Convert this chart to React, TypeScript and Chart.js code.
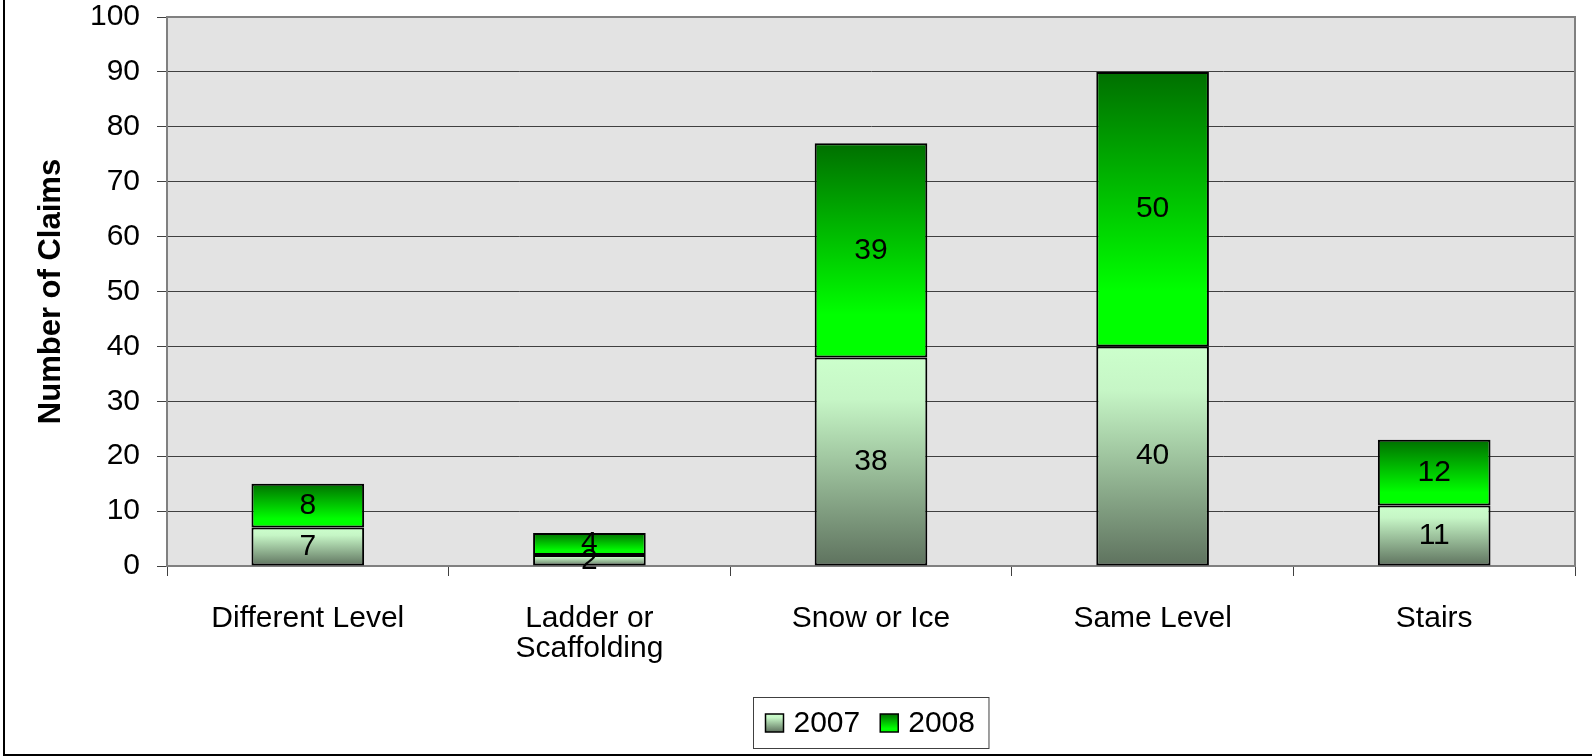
import React, { useEffect, useRef } from "react";
import { Chart, registerables } from "chart.js";

Chart.register(...registerables);

const categories: string[][] = [
  ["Different Level"],
  ["Ladder or", "Scaffolding"],
  ["Snow or Ice"],
  ["Same Level"],
  ["Stairs"],
];
const seriesNames = ["2007", "2008"];
const values2007 = [7, 2, 38, 40, 11];
const values2008 = [8, 4, 39, 50, 12];
const yMin = 0;
const yMax = 100;
const yStep = 10;
const yTitle = "Number of Claims";

const FONT = "'Liberation Sans', Arial, sans-serif";

const stops2007: [number, string][] = [
  [0, "#ccffcc"],
  [0.2, "#c6f6c6"],
  [1, "#5e725e"],
];
const stops2008: [number, string][] = [
  [0, "#006f00"],
  [0.8, "#00ff00"],
  [1, "#00ff00"],
];

function makeGrad(ctx: CanvasRenderingContext2D, top: number, bottom: number, stops: [number, string][]) {
  const g = ctx.createLinearGradient(0, top, 0, bottom === top ? top + 1 : bottom);
  stops.forEach(([o, c]) => g.addColorStop(o, c));
  return g;
}

const allSeries = [values2007, values2008];
const allStops = [stops2007, stops2008];

function segFill(dsIndex: number) {
  return (c: any) => {
    const chart = c.chart;
    const y = chart.scales?.y;
    if (!chart.chartArea || !y || c.dataIndex === undefined) return allStops[dsIndex][1][1];
    let start = 0;
    for (let k = 0; k < dsIndex; k++) start += allSeries[k][c.dataIndex];
    const end = start + allSeries[dsIndex][c.dataIndex];
    const top = y.getPixelForValue(end);
    const bottom = y.getPixelForValue(start);
    return makeGrad(chart.ctx, top, bottom, allStops[dsIndex]);
  };
}

const bgPlugin = {
  id: "bgPlugin",
  beforeDraw(chart: any) {
    const { ctx, chartArea: a } = chart;
    ctx.save();
    ctx.fillStyle = "#ffffff";
    ctx.fillRect(0, 0, chart.width, chart.height);
    ctx.fillStyle = "#e3e3e3";
    ctx.fillRect(a.left, a.top, a.right - a.left, a.bottom - a.top);
    ctx.restore();
  },
  beforeDatasetsDraw(chart: any) {
    const { ctx, chartArea: a } = chart;
    ctx.save();
    ctx.strokeStyle = "#808080";
    ctx.lineWidth = 2;
    ctx.beginPath();
    ctx.moveTo(a.left, a.top);
    ctx.lineTo(a.right, a.top);
    ctx.lineTo(a.right, a.bottom);
    ctx.stroke();
    ctx.restore();
  },
  afterDatasetsDraw(chart: any) {
    const { ctx } = chart;
    ctx.save();
    ctx.font = `30px ${FONT}`;
    ctx.fillStyle = "#000000";
    ctx.textAlign = "center";
    ctx.textBaseline = "middle";
    chart.data.datasets.forEach((ds: any, di: number) => {
      const meta = chart.getDatasetMeta(di);
      meta.data.forEach((el: any, i: number) => {
        ctx.fillText(String(ds.data[i]), el.x, (el.y + el.base) / 2);
      });
    });
    ctx.restore();
  },
  afterDraw(chart: any) {
    const { ctx, chartArea: a } = chart;
    ctx.save();
    // legend
    ctx.font = `30px ${FONT}`;
    const sw = 18;
    const gapSwText = 10;
    const gapItems = 20;
    const padL = 12;
    const padR = 14;
    const names = chart.data.datasets.map((d: any) => d.label);
    const widths = names.map((n: string) => sw + gapSwText + ctx.measureText(n).width);
    const inner = widths.reduce((s: number, w: number) => s + w, 0) + gapItems * (names.length - 1);
    const boxW = inner + padL + padR;
    const boxH = 51;
    const cx = (a.left + a.right) / 2;
    const boxL = Math.round(cx - boxW / 2) + 0.5;
    const boxT = a.bottom + 131.5;
    ctx.strokeStyle = "#404040";
    ctx.lineWidth = 1;
    ctx.strokeRect(boxL, boxT, boxW, boxH);
    let x = boxL + padL;
    const cy = boxT + boxH / 2;
    names.forEach((n: string, i: number) => {
      const top = cy - sw / 2;
      ctx.fillStyle = makeGrad(ctx, top, top + sw, allStops[i]);
      ctx.fillRect(x, top, sw, sw);
      ctx.strokeStyle = "#000";
      ctx.lineWidth = 1.5;
      ctx.strokeRect(x, top, sw, sw);
      ctx.fillStyle = "#000";
      ctx.textAlign = "left";
      ctx.textBaseline = "middle";
      ctx.fillText(n, x + sw + gapSwText, cy + 1);
      x += widths[i] + gapItems;
    });
    // outer frame (left & bottom)
    ctx.strokeStyle = "#000";
    ctx.lineWidth = 2;
    ctx.beginPath();
    ctx.moveTo(4, 0);
    ctx.lineTo(4, 755);
    ctx.lineTo(chart.width, 755);
    ctx.stroke();
    ctx.restore();
  },
};

export default function App() {
  const ref = useRef<HTMLCanvasElement | null>(null);
  useEffect(() => {
    if (!ref.current) return;
    const chart = new Chart(ref.current, {
      type: "bar",
      data: {
        labels: categories,
        datasets: [
          {
            label: seriesNames[0],
            data: values2007,
            backgroundColor: segFill(0),
            borderColor: "#000000",
            borderWidth: 2,
            borderSkipped: false,
            categoryPercentage: 1,
            barPercentage: 0.4,
          },
          {
            label: seriesNames[1],
            data: values2008,
            backgroundColor: segFill(1),
            borderColor: "#000000",
            borderWidth: 2,
            borderSkipped: false,
            categoryPercentage: 1,
            barPercentage: 0.4,
          },
        ],
      },
      options: {
        responsive: false,
        animation: false,
        devicePixelRatio: 1,
        layout: { padding: { top: 17, right: 17, left: 0, bottom: 0 } },
        plugins: {
          legend: { display: false },
          tooltip: { enabled: false },
        },
        scales: {
          x: {
            stacked: true,
            grid: {
              offset: true,
              drawOnChartArea: false,
              drawTicks: true,
              tickLength: 10,
              color: "#404040",
              lineWidth: 1,
            },
            border: { color: "#808080", width: 2 },
            ticks: {
              color: "#000",
              font: { family: FONT, size: 30, lineHeight: 1.0 },
              padding: 28,
              maxRotation: 0,
              minRotation: 0,
              autoSkip: false,
            },
            afterFit(scale: any) {
              scale.height = 190;
              scale.paddingLeft = 0;
              scale.paddingRight = 0;
            },
          },
          y: {
            stacked: true,
            min: yMin,
            max: yMax,
            ticks: {
              stepSize: yStep,
              color: "#000",
              font: { family: FONT, size: 30 },
              padding: 17,
            },
            grid: {
              color: "#404040",
              lineWidth: 1,
              tickLength: 10,
              drawTicks: true,
            },
            border: { color: "#808080", width: 2 },
            title: {
              display: true,
              text: yTitle,
              color: "#000",
              font: { family: FONT, size: 31, weight: "bold" },
              padding: { top: 33, bottom: 0 },
            },
            afterFit(scale: any) {
              scale.width = 167;
              scale.paddingTop = 0;
              scale.paddingBottom = 0;
            },
          },
        },
      },
      plugins: [bgPlugin],
    });
    return () => chart.destroy();
  }, []);
  return (
    <div style={{ position: "fixed", left: 0, top: 0, width: 1592, height: 756, background: "#fff" }}>
      <canvas ref={ref} width={1592} height={756} style={{ display: "block", width: 1592, height: 756 }} />
    </div>
  );
}
